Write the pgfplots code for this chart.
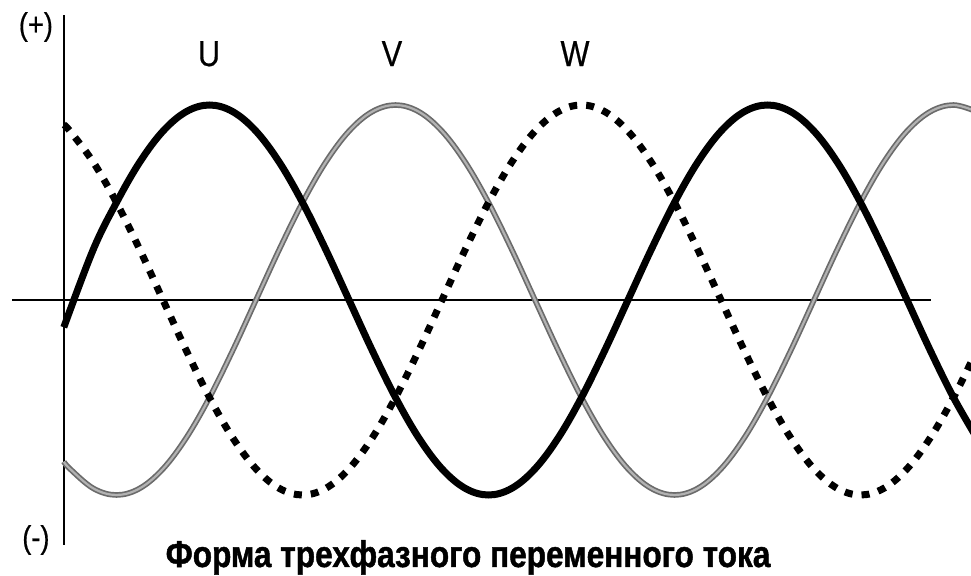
\documentclass[border=0pt]{standalone}
\usepackage{pgfplots}
\pgfplotsset{compat=1.18}
\usepackage{fontspec}
\setmainfont{Liberation Sans}
\newfontfamily\condfont[FakeStretch=0.85,FakeBold=0.5]{Liberation Sans}
\newfontfamily\titlefont[FakeStretch=0.85,FakeBold=1.2]{Liberation Sans Bold}
\begin{document}
\begin{tikzpicture}
\begin{axis}[name=main, hide axis, scale only axis, width=485.5pt, height=287.5pt,
  at={(0,0)}, anchor=south west,
  xmin=-45.16, xmax=581.29, ymin=-1.4103, ymax=1.5385, clip=true]
% axes lines
\draw[black, line width=0.8pt] (axis cs:-3.87,1.4615) -- (axis cs:-3.87,-1.2564);
\draw[black, line width=0.8pt] (axis cs:-37.4,0) -- (axis cs:555.5,0);
% V (gray)
\addplot[draw=black!58, double=black!30, double distance=1.1pt, line width=0.85pt, smooth, tension=0.6] coordinates {
(-4,-0.8290) (0,-0.8660) (15,-0.9659) (30,-1) (45,-0.9659) (60,-0.8660) (75,-0.7071) (90,-0.5) (105,-0.2588)
(120,0) (135,0.2588) (150,0.5) (165,0.7071) (180,0.8660) (195,0.9659) (210,1) (225,0.9659) (240,0.8660)
(255,0.7071) (270,0.5) (285,0.2588) (300,0) (315,-0.2588) (330,-0.5) (345,-0.7071) (360,-0.8660)
(375,-0.9659) (390,-1) (405,-0.9659) (420,-0.8660) (435,-0.7071) (450,-0.5) (465,-0.2588) (480,0)
(495,0.2588) (510,0.5) (525,0.7071) (540,0.8660) (555,0.9659) (570,1) (585,0.9659)};
% W (dashed)
\addplot[black, line width=3.5pt, dash pattern=on 4pt off 4.5pt, smooth, tension=0.6] coordinates {
(-4,0.8988) (0,0.8660) (15,0.7071) (30,0.5) (45,0.2588) (60,0) (75,-0.2588) (90,-0.5) (105,-0.7071)
(120,-0.8660) (135,-0.9659) (150,-1) (165,-0.9659) (180,-0.8660) (195,-0.7071) (210,-0.5) (225,-0.2588)
(240,0) (255,0.2588) (270,0.5) (285,0.7071) (300,0.8660) (315,0.9659) (330,1) (345,0.9659) (360,0.8660)
(375,0.7071) (390,0.5) (405,0.2588) (420,0) (435,-0.2588) (450,-0.5) (465,-0.7071) (480,-0.8660)
(495,-0.9659) (510,-1) (525,-0.9659) (540,-0.8660) (555,-0.7071) (570,-0.5) (585,-0.2588)};
% U (solid)
\addplot[black, line width=3.5pt, smooth, tension=0.6] coordinates {
(-4,-0.1400) (15,0.2588) (30,0.5) (45,0.7071) (60,0.8660) (75,0.9659) (90,1) (105,0.9659)
(120,0.8660) (135,0.7071) (150,0.5) (165,0.2588) (180,0) (195,-0.2588) (210,-0.5) (225,-0.7071)
(240,-0.8660) (255,-0.9659) (270,-1) (285,-0.9659) (300,-0.8660) (315,-0.7071) (330,-0.5) (345,-0.2588)
(360,0) (375,0.2588) (390,0.5) (405,0.7071) (420,0.8660) (435,0.9659) (450,1) (465,0.9659) (480,0.8660)
(495,0.7071) (510,0.5) (525,0.2588) (540,0) (555,-0.2588) (570,-0.5) (585,-0.7071)};
% labels
\node[font=\condfont\fontsize{16}{18}\selectfont] at (axis cs:-22,1.40) {(+)};
\node[font=\condfont\fontsize{16}{18}\selectfont] at (axis cs:-22,-1.2308) {(-)};
\node[font=\condfont\fontsize{18}{20}\selectfont, anchor=base] at (axis cs:89.7,1.2) {U};
\node[font=\condfont\fontsize{18}{20}\selectfont, anchor=base] at (axis cs:207.7,1.2) {V};
\node[font=\condfont\fontsize{18}{20}\selectfont, anchor=base] at (axis cs:325.8,1.2) {W};
\node[font=\titlefont\fontsize{18.6}{20}\selectfont, anchor=base] at (axis cs:256.8,-1.3692) {Форма трехфазного переменного тока};
\end{axis}
\pgfresetboundingbox
\path (0,0) rectangle (485.5pt,287.5pt);
\end{tikzpicture}
\end{document}
